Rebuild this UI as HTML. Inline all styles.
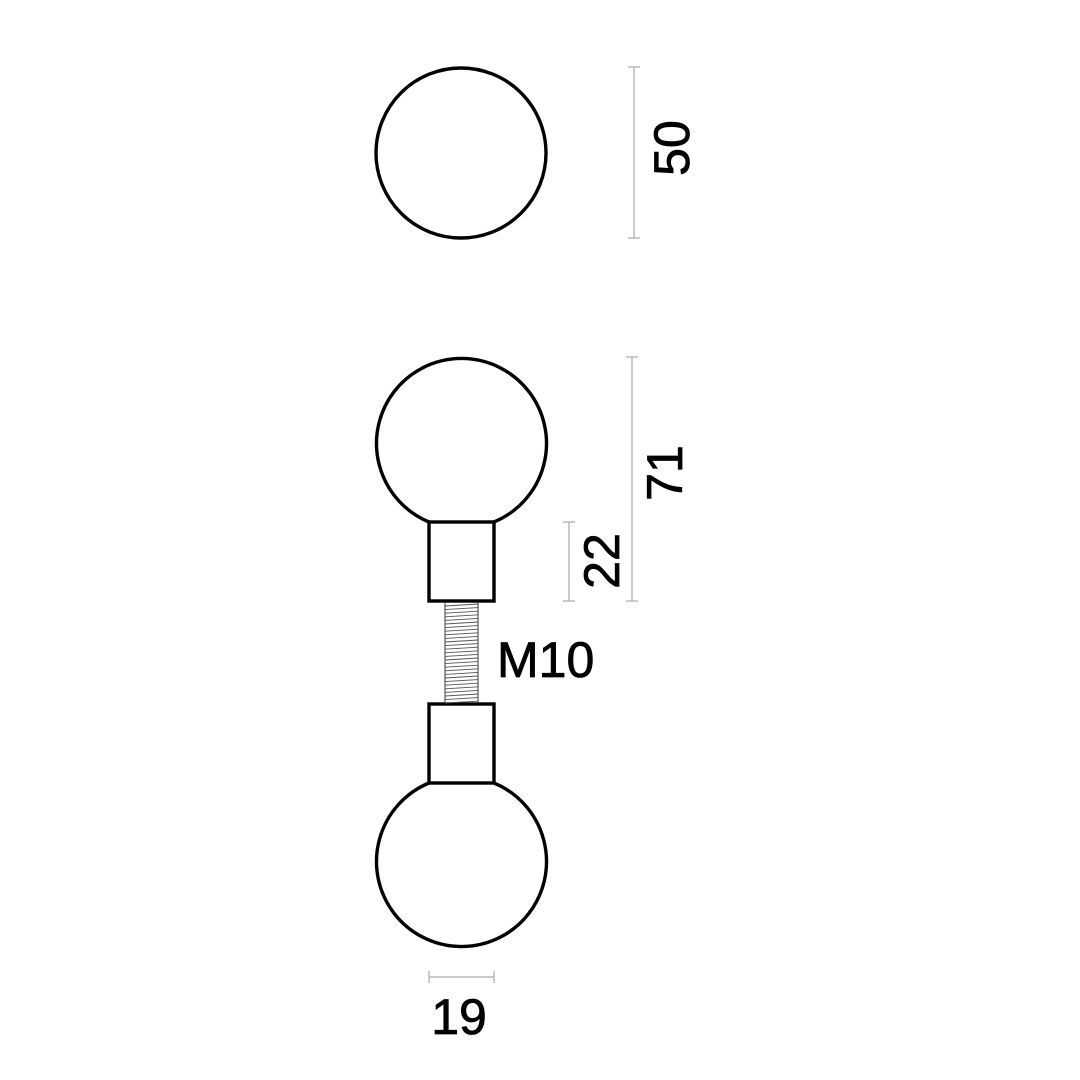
<!DOCTYPE html>
<html><head><meta charset="utf-8"><style>html,body{margin:0;padding:0;background:#fff}svg{display:block}</style></head>
<body>
<svg width="1080" height="1080" viewBox="0 0 1080 1080" xmlns="http://www.w3.org/2000/svg">
<rect width="1080" height="1080" fill="#fff"/>
<g fill="none" stroke="#000" stroke-width="3.4">
<circle cx="461" cy="153" r="85"/>
<path d="M429 522 A85 85 0 1 1 494 522"/>
<rect x="429" y="522" width="65" height="79"/>
<rect x="429" y="704" width="65" height="79"/>
<path d="M429 783 A85 85 0 1 0 494 783"/>
</g>
<g stroke="#333" stroke-width="1">
<line x1="445" y1="602" x2="445" y2="703"/>
<line x1="478" y1="602" x2="478" y2="703"/>
</g>
<g stroke="#555" stroke-width="0.9">
<line x1="445" y1="606" x2="478" y2="604"/>
<line x1="445" y1="609.6" x2="478" y2="607.6"/>
<line x1="445" y1="613.2" x2="478" y2="611.2"/>
<line x1="445" y1="616.8" x2="478" y2="614.8"/>
<line x1="445" y1="620.4" x2="478" y2="618.4"/>
<line x1="445" y1="624" x2="478" y2="622"/>
<line x1="445" y1="627.6" x2="478" y2="625.6"/>
<line x1="445" y1="631.2" x2="478" y2="629.2"/>
<line x1="445" y1="634.8" x2="478" y2="632.8"/>
<line x1="445" y1="638.4" x2="478" y2="636.4"/>
<line x1="445" y1="642" x2="478" y2="640"/>
<line x1="445" y1="645.6" x2="478" y2="643.6"/>
<line x1="445" y1="649.2" x2="478" y2="647.2"/>
<line x1="445" y1="652.8" x2="478" y2="650.8"/>
<line x1="445" y1="656.4" x2="478" y2="654.4"/>
<line x1="445" y1="660" x2="478" y2="658"/>
<line x1="445" y1="663.6" x2="478" y2="661.6"/>
<line x1="445" y1="667.2" x2="478" y2="665.2"/>
<line x1="445" y1="670.8" x2="478" y2="668.8"/>
<line x1="445" y1="674.4" x2="478" y2="672.4"/>
<line x1="445" y1="678" x2="478" y2="676"/>
<line x1="445" y1="681.6" x2="478" y2="679.6"/>
<line x1="445" y1="685.2" x2="478" y2="683.2"/>
<line x1="445" y1="688.8" x2="478" y2="686.8"/>
<line x1="445" y1="692.4" x2="478" y2="690.4"/>
<line x1="445" y1="696" x2="478" y2="694"/>
<line x1="445" y1="699.6" x2="478" y2="697.6"/>
<line x1="445" y1="703" x2="478" y2="701.2"/>
</g>
<g stroke="#aaa" stroke-width="1.2" fill="none">
<line x1="634" y1="67" x2="634" y2="238"/><line x1="628" y1="67" x2="640" y2="67"/><line x1="628" y1="238" x2="640" y2="238"/>
<line x1="632" y1="357" x2="632" y2="601"/><line x1="626" y1="357" x2="638" y2="357"/><line x1="626" y1="601" x2="638" y2="601"/>
<line x1="569" y1="522" x2="569" y2="601"/><line x1="563" y1="522" x2="575" y2="522"/><line x1="563" y1="601" x2="575" y2="601"/>
<line x1="429" y1="977" x2="494" y2="977"/><line x1="429" y1="971" x2="429" y2="983"/><line x1="494" y1="971" x2="494" y2="983"/>
</g>
<g font-family="Liberation Sans, sans-serif" font-size="50" fill="#000" stroke="#000" stroke-width="0.8" text-anchor="middle">
<text transform="translate(689,148) rotate(-90)">50</text>
<text transform="translate(682,473) rotate(-90)">71</text>
<text transform="translate(619,561) rotate(-90)">22</text>
<text x="459" y="1034">19</text>
<text x="497" y="677" text-anchor="start">M10</text>
</g>
</svg>
</body></html>
